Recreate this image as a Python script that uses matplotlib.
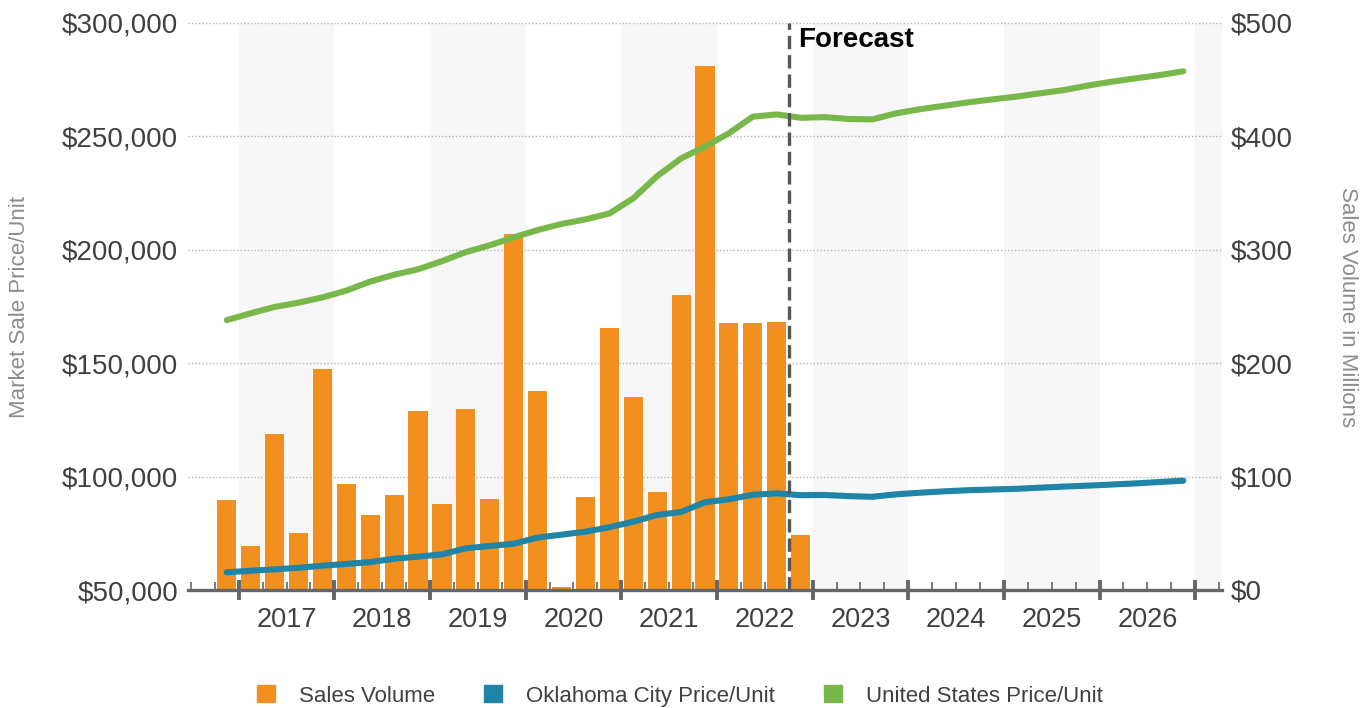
import numpy as np
import pandas as pd
import matplotlib
matplotlib.use("Agg")
import matplotlib.pyplot as plt
from matplotlib.patches import Patch
from matplotlib.ticker import FixedLocator, FuncFormatter

plt.rcParams['font.family'] = ['Liberation Sans', 'DejaVu Sans']

# quarterly series, 2016 Q4 .. 2026 Q4
quarters = pd.period_range('2016Q4', '2026Q4', freq='Q')

# sales volume ($M), 2016 Q4 .. 2022 Q4
sales_volume = [79.4, 38.8, 137.6, 50.0, 195.2, 93.5, 66.4, 83.5, 157.9, 76.1,
                159.6, 80.0, 313.7, 175.5, 2.6, 82.0, 230.8, 170.5, 86.7, 260.0,
                462.4, 235.4, 235.4, 236.0, 48.5]

okc_price = [57800, 58500, 59100, 59800, 60700, 61500, 62300, 63800, 64700, 65700,
             68400, 69400, 70400, 73100, 74400, 75700, 77700, 80100, 83100, 84400,
             88700, 90000, 92000, 92600, 91800, 91900, 91400, 91100, 92200, 92900,
             93500, 94000, 94300, 94600, 95100, 95600, 96000, 96500, 97000, 97600,
             98200]

us_price = [169000, 172000, 174800, 176700, 179000, 182000, 186000, 189000, 191400, 195000,
            199000, 202000, 205500, 208700, 211400, 213400, 216000, 222700, 232500, 240300,
            245500, 251400, 258700, 259700, 258200, 258500, 257700, 257500, 260200, 262000,
            263500, 265000, 266300, 267500, 269000, 270400, 272400, 274100, 275600, 277000,
            278700]

years = [2017, 2018, 2019, 2020, 2021, 2022, 2023, 2024, 2025, 2026]
forecast_start = 2022.75

price_ticks = [50000, 100000, 150000, 200000, 250000, 300000]
volume_ticks = [0, 100, 200, 300, 400, 500]

ORANGE = '#F2901F'
BLUE = '#1F84A6'
GREEN = '#78B84A'
TXT = '#404040'
AXIS_GRAY = '#666666'

x_q = np.array([q.year + (q.quarter - 0.5) / 4 for q in quarters])
x_bars = x_q[:len(sales_volume)]

fig = plt.figure(figsize=(13.69, 7.08), dpi=100)
ax = fig.add_axes([188 / 1369, 118 / 708, 1034 / 1369, 567 / 708])
ax2 = ax.twinx()
ax.set_zorder(ax2.get_zorder() + 1)
ax.patch.set_visible(False)

x0, x1 = 2016.47, 2027.28
ax.set_xlim(x0, x1)
ax.set_ylim(50000, 300000)
ax2.set_ylim(0, 500)

# alternating year bands
for yr in range(2016, 2028):
    if yr % 2 == 1:
        ax2.axvspan(yr, yr + 1, color='#F7F7F7', zorder=0, lw=0)

# grid + volume bars on the right scale
ax2.set_axisbelow(True)
ax2.yaxis.set_major_locator(FixedLocator(volume_ticks))
ax2.yaxis.grid(True, linestyle=(0, (1, 1.5)), color='#b5b5b5', linewidth=1.0)
ax2.bar(x_bars, sales_volume, width=0.2, color=ORANGE, zorder=2)

# price lines on the left scale
ax.plot(x_q, okc_price, color=BLUE, lw=4.4, solid_capstyle='round', zorder=3)
ax.plot(x_q, us_price, color=GREEN, lw=4.4, solid_capstyle='round', zorder=3)

ax.axvline(forecast_start, color='#555555', lw=2.4, dashes=(4, 1.8), zorder=4)
ax.annotate('Forecast', xy=(forecast_start, 1), xycoords=('data', 'axes fraction'),
            xytext=(7, -3), textcoords='offset points', ha='left', va='top',
            fontsize=20, fontweight='bold', color='black')

# y axes
ax.yaxis.set_major_locator(FixedLocator(price_ticks))
ax.yaxis.set_major_formatter(FuncFormatter(lambda v, p: '${:,.0f}'.format(v)))
ax2.yaxis.set_major_formatter(FuncFormatter(lambda v, p: '${:,.0f}'.format(v)))
ax.tick_params(axis='y', length=0, pad=7, labelsize=20, labelcolor=TXT)
ax2.tick_params(axis='y', length=0, pad=6, labelsize=20, labelcolor=TXT)

# x axis: year boundaries as major ticks, quarters as minor
for a in (ax, ax2):
    for s in ('top', 'left', 'right'):
        a.spines[s].set_visible(False)
ax2.spines['bottom'].set_visible(False)
ax.spines['bottom'].set_color(AXIS_GRAY)
ax.spines['bottom'].set_linewidth(2.4)

major_x = [y for y in range(2017, 2028)]
minor_x = [q / 4 for q in range(int(x0 * 4) + 1, int(x1 * 4) + 1) if q % 4 != 0]
ax.xaxis.set_major_locator(FixedLocator(major_x))
ax.xaxis.set_minor_locator(FixedLocator(minor_x))
ax.tick_params(axis='x', which='major', direction='inout', length=15, width=2.8,
               color=AXIS_GRAY, labelbottom=False)
ax.tick_params(axis='x', which='minor', direction='in', length=6, width=1.2,
               color=AXIS_GRAY)
ax2.tick_params(axis='x', which='both', length=0, labelbottom=False)

for yr in years:
    ax.text(yr + 0.5, -0.053, str(yr), transform=ax.get_xaxis_transform(),
            ha='center', va='center', fontsize=19.5, color=TXT)

fig.text(20 / 1369, 1 - 307 / 708, 'Market Sale Price/Unit', rotation=90,
         ha='center', va='center', fontsize=16, color='#8c8c8c')
fig.text(1347 / 1369, 1 - 307 / 708, 'Sales Volume in Millions', rotation=-90,
         ha='center', va='center', fontsize=16, color='#8c8c8c')

handles = [Patch(color=ORANGE), Patch(color=BLUE), Patch(color=GREEN)]
labels = ['Sales Volume', 'Oklahoma City Price/Unit', 'United States Price/Unit']
leg = fig.legend(handles, labels, loc='center', bbox_to_anchor=(680 / 1369, 12 / 708),
                 ncol=3, frameon=False, fontsize=16, handlelength=0.8,
                 handleheight=0.8, handletextpad=1.1, columnspacing=2.2,
                 borderpad=0)
for t in leg.get_texts():
    t.set_color(TXT)

fig.savefig('out.png', dpi=100)
